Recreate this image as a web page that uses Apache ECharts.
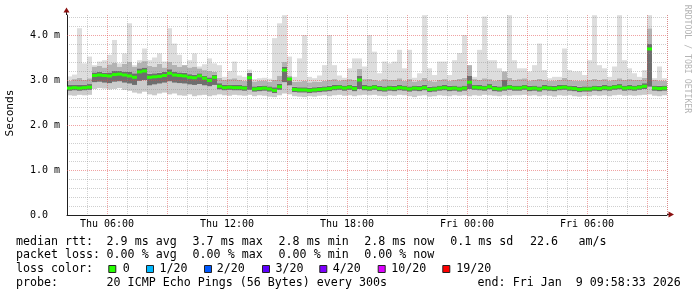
<!DOCTYPE html>
<html><head><meta charset="utf-8">
<script src="https://cdn.jsdelivr.net/npm/echarts@6/dist/echarts.min.js"></script>
<style>html,body{margin:0;padding:0;background:#fff}#c{width:697px;height:297px}</style>
</head><body><div id="c"></div>
<script>
// ---- data (milliseconds), one value per 15-minute step starting Thu 04:00 ----
const startMinute = 240;           // Thu 04:00 (minutes after Thu 00:00)
const stepMinutes = 15;
const dayNames = ['Thu', 'Fri'];
const tickHours = [6, 12, 18, 24, 30];
const tickLabels = ['Thu 06:00', 'Thu 12:00', 'Thu 18:00', 'Fri 00:00', 'Fri 06:00'];
const yTickLabels = ['0.0', '1.0 m', '2.0 m', '3.0 m', '4.0 m'];

const median = [
 2.82,2.83,2.82,2.83,2.84,3.10,3.11,3.10,3.09,3.12,3.13,3.11,3.09,3.06,3.18,3.20,3.06,3.07,3.08,3.10,3.15,3.11,3.10,3.09,3.06,3.05,3.09,3.04,2.99,3.06,
 2.86,2.83,2.84,2.83,2.83,2.82,3.05,2.80,2.81,2.82,2.80,2.77,2.85,3.22,3.02,2.79,2.78,2.78,2.77,2.78,2.79,2.80,2.81,2.83,2.84,2.82,2.84,2.81,3.00,2.83,
 2.82,2.84,2.81,2.80,2.82,2.81,2.83,2.82,2.80,2.82,2.81,2.83,2.79,2.80,2.82,2.83,2.81,2.82,2.80,2.82,2.95,2.84,2.83,2.82,2.85,2.81,2.80,2.82,2.84,2.82,
 2.82,2.84,2.81,2.82,2.80,2.83,2.82,2.81,2.83,2.84,2.82,2.81,2.79,2.80,2.80,2.82,2.81,2.83,2.82,2.84,2.85,2.82,2.83,2.82,2.84,2.86,3.69,2.82,2.81,2.82];
const smokeMax = [
 3.08,3.12,4.15,3.37,3.52,3.33,3.41,3.44,3.56,3.89,3.37,3.59,4.26,3.33,3.44,3.70,3.44,3.50,3.59,3.41,4.15,3.81,3.56,3.33,3.44,3.59,3.30,3.35,3.48,3.37,
 3.33,3.07,3.20,3.41,3.10,3.07,3.22,3.02,3.04,3.05,3.03,3.93,4.26,4.44,3.52,3.07,3.48,4.00,3.07,3.04,3.10,3.33,4.00,3.33,3.10,3.05,3.26,3.48,3.48,3.30,
 4.00,3.63,3.15,3.41,3.37,3.41,3.67,3.26,3.67,3.05,3.15,4.44,3.26,3.11,3.41,3.41,3.11,3.44,3.60,4.00,3.33,3.07,3.67,4.41,3.44,3.44,3.26,3.19,4.44,3.44,
 3.26,3.26,3.19,3.33,3.81,3.22,3.04,3.07,3.07,3.70,3.22,3.19,3.19,3.11,3.44,4.44,3.33,3.26,3.07,3.30,4.44,3.44,3.26,3.15,3.07,3.22,4.44,3.04,3.30,3.04];
const smokeUpper = [
 2.98,3.02,3.05,3.00,3.04,3.30,3.32,3.28,3.35,3.38,3.30,3.36,3.40,3.30,3.38,3.42,3.32,3.30,3.36,3.28,3.40,3.34,3.30,3.33,3.28,3.30,3.26,3.22,3.20,3.18,
 3.05,3.00,3.02,3.04,3.00,2.98,3.15,2.97,2.98,2.99,2.96,3.00,3.10,3.40,3.10,2.96,2.97,2.98,2.95,2.97,2.96,2.98,3.00,3.02,2.99,3.00,3.02,3.00,3.25,3.02,
 3.03,3.00,2.98,3.02,3.00,3.01,3.04,2.98,3.02,2.97,2.99,3.05,2.98,2.97,3.00,3.02,2.98,3.00,3.03,3.05,3.33,3.02,3.00,3.04,3.02,2.99,3.00,3.19,3.05,3.00,
 3.02,3.04,2.99,3.00,3.03,3.00,2.98,2.99,3.01,3.05,3.00,2.99,2.98,2.99,3.00,3.03,3.00,3.02,2.99,3.01,3.04,3.00,3.02,3.00,3.01,3.05,4.15,3.00,2.99,2.98];
const smokeHigh = [
 2.89,2.90,2.90,2.89,2.91,3.17,3.18,3.16,3.17,3.20,3.21,3.19,3.18,3.15,3.26,3.28,3.14,3.15,3.16,3.18,3.24,3.19,3.17,3.16,3.13,3.12,3.15,3.10,3.06,3.12,
 2.93,2.89,2.90,2.89,2.89,2.88,3.16,2.86,2.87,2.88,2.86,2.84,2.92,3.30,3.06,2.85,2.84,2.84,2.83,2.84,2.85,2.86,2.87,2.89,2.90,2.88,2.90,2.87,3.10,2.89,
 2.88,2.90,2.87,2.86,2.88,2.87,2.89,2.88,2.86,2.88,2.87,2.89,2.85,2.86,2.88,2.89,2.87,2.88,2.86,2.88,3.10,2.90,2.89,2.88,2.91,2.87,2.86,3.00,2.90,2.88,
 2.88,2.90,2.87,2.88,2.86,2.89,2.88,2.87,2.89,2.90,2.88,2.87,2.85,2.86,2.86,2.88,2.87,2.89,2.88,2.90,2.91,2.88,2.89,2.88,2.90,2.93,3.80,2.88,2.87,2.88];
const smokeLow = [
 2.76,2.77,2.76,2.77,2.78,2.95,2.96,2.94,2.93,2.96,2.97,2.94,2.92,2.89,2.98,3.00,2.88,2.90,2.92,2.94,2.97,2.94,2.93,2.92,2.90,2.89,2.91,2.88,2.86,2.89,
 2.79,2.77,2.78,2.77,2.77,2.76,2.78,2.74,2.75,2.76,2.74,2.71,2.78,2.95,2.88,2.73,2.72,2.72,2.71,2.72,2.73,2.74,2.75,2.77,2.78,2.76,2.78,2.75,2.80,2.77,
 2.76,2.78,2.75,2.74,2.76,2.75,2.77,2.76,2.74,2.76,2.75,2.77,2.73,2.74,2.76,2.77,2.75,2.76,2.74,2.76,2.80,2.78,2.77,2.76,2.79,2.75,2.74,2.76,2.78,2.76,
 2.76,2.78,2.75,2.76,2.74,2.77,2.76,2.75,2.77,2.78,2.76,2.75,2.73,2.74,2.74,2.76,2.75,2.77,2.76,2.78,2.79,2.76,2.77,2.76,2.78,2.80,2.85,2.76,2.75,2.76];
const smokeMin = [
 2.66,2.65,2.67,2.66,2.67,2.80,2.82,2.81,2.79,2.80,2.82,2.78,2.76,2.72,2.70,2.74,2.68,2.66,2.70,2.72,2.68,2.70,2.66,2.65,2.68,2.64,2.66,2.67,2.64,2.66,
 2.68,2.66,2.65,2.67,2.66,2.65,2.67,2.64,2.66,2.65,2.63,2.62,2.66,2.70,2.68,2.64,2.63,2.62,2.64,2.63,2.65,2.66,2.64,2.66,2.67,2.65,2.66,2.64,2.66,2.67,
 2.66,2.67,2.65,2.64,2.66,2.65,2.67,2.66,2.64,2.62,2.65,2.66,2.63,2.64,2.66,2.65,2.64,2.66,2.65,2.66,2.64,2.66,2.65,2.67,2.66,2.65,2.64,2.66,2.65,2.66,
 2.66,2.67,2.65,2.66,2.64,2.66,2.65,2.63,2.66,2.65,2.66,2.64,2.63,2.65,2.64,2.66,2.65,2.66,2.64,2.66,2.67,2.65,2.66,2.65,2.66,2.67,2.68,2.65,2.64,2.66];

const statRows = [
 ['median rtt:', '2.9 ms avg', '3.7 ms max', '2.8 ms min', '2.8 ms now', '0.1 ms sd', '22.6', 'am/s'],
 ['packet loss:', '0.00 % avg', '0.00 % max', '0.00 % min', '0.00 % now'],
 ['loss color:'],
 ['probe:', '20 ICMP Echo Pings (56 Bytes) every 300s', 'end: Fri Jan  9 09:58:33 2026']
];
const lossLabels = ['0', '1/20', '2/20', '3/20', '4/20', '10/20', '19/20'];
const lossColors = ['#26ff00', '#00b8ff', '#0059ff', '#5e00ff', '#7e00ff', '#dd00ff', '#ff0000'];

// ---- layout / style ----
const FONT = '"DejaVu Sans Mono", monospace';
const rowY = [241.5, 255.3, 269, 282.7];
const colX = [
 [16, 106.6, 192.6, 278.6, 364.3, 450.3, 530, 578.6],
 [16, 106.6, 192.6, 278.6, 364.3],
 [16],
 [16, 106.6, 477.6]
];
const boxX = [108.3, 146, 204, 262, 319.3, 377.7, 442.3];
const lossTextX = [122.8, 159.5, 216.8, 275.5, 332.8, 391.2, 456.2];

const n = median.length;
const pad = v => (v < 10 ? '0' : '') + v;
const cats = [];
for (let j = 0; j < n; j++) {
  const m = startMinute + j * stepMinutes;
  cats.push(dayNames[Math.floor(m / 1440)] + ' ' + pad(Math.floor(m / 60) % 24) + ':' + pad(m % 60));
}
const diff = (a, b) => a.map((v, i) => Math.max(0, +(v - b[i]).toFixed(4)));
const yMax = 200 / 45;
const hourMin = startMinute / 60, hourMax = hourMin + n * stepMinutes / 60;
const perHour = 60 / stepMinutes;                       // categories per hour
const majorOffset = ((3 - hourMin % 3) % 3) * perHour;    // first 3-hour boundary

function band(data, color) {
  return {
    type: 'bar', stack: 'smoke', data: data, xAxisIndex: 0, yAxisIndex: 0,
    barCategoryGap: '0%', barGap: '0%', silent: true, animation: false, z: 2,
    itemStyle: { color: color || 'rgba(0,0,0,0)', borderWidth: 0 }
  };
}

const series = [
  band(smokeMin, null),
  band(diff(smokeLow, smokeMin), '#cbcbcb'),
  band(diff(smokeHigh, smokeLow), '#6e6e6e'),
  band(diff(smokeUpper, smokeHigh), '#b3b3b3'),
  band(diff(smokeMax, smokeUpper), '#dddddd'),
  { type: 'scatter', data: median, xAxisIndex: 0, yAxisIndex: 0, symbol: 'rect', symbolSize: [5, 3],
    itemStyle: { color: '#26ff00', opacity: 1 }, silent: true, animation: false, z: 6 }
];

const graphic = [];
statRows.forEach((row, r) => row.forEach((t, c) => graphic.push({
  type: 'text', x: colX[r][c], y: rowY[r], silent: true,
  style: { text: t, fill: '#000', font: '11.65px ' + FONT, align: 'left', verticalAlign: 'middle' }
})));
lossLabels.forEach((t, k) => {
  graphic.push({ type: 'rect', silent: true, shape: { x: boxX[k] + 0.5, y: 265.5, width: 7, height: 7 },
    style: { fill: lossColors[k], stroke: '#222', lineWidth: 1 } });
  graphic.push({ type: 'text', x: lossTextX[k], y: rowY[2], silent: true,
    style: { text: t, fill: '#000', font: '11.65px ' + FONT, align: 'left', verticalAlign: 'middle' } });
});
graphic.push({ type: 'text', x: 10, y: 113, rotation: Math.PI / 2, silent: true,
  style: { text: 'Seconds', fill: '#000', font: '11.2px ' + FONT, align: 'center', verticalAlign: 'middle' } });
graphic.push({ type: 'text', x: 687.5, y: 59, rotation: -Math.PI / 2, silent: true,
  style: { text: 'RRDTOOL / TOBI OETIKER', fill: '#b4b4b4', font: '8.2px ' + FONT, align: 'center', verticalAlign: 'middle' } });
// axis extensions and arrows
graphic.push({ type: 'line', silent: true, z: 10, shape: { x1: 66.5, y1: 15, x2: 66.5, y2: 12 }, style: { stroke: '#202020', lineWidth: 1 } });
graphic.push({ type: 'polygon', silent: true, z: 10, shape: { points: [[63.5, 12.5], [69.5, 12.5], [66.5, 7.5]] }, style: { fill: '#8b1010' } });
graphic.push({ type: 'line', silent: true, z: 10, shape: { x1: 667, y1: 214.5, x2: 669, y2: 214.5 }, style: { stroke: '#202020', lineWidth: 1 } });
graphic.push({ type: 'polygon', silent: true, z: 10, shape: { points: [[668.5, 211.5], [668.5, 217.5], [674, 214.5]] }, style: { fill: '#8b1010' } });

const GREY = 'rgba(140,140,140,0.42)';
const RED = 'rgba(225,70,70,0.5)';
const NONE = 'rgba(0,0,0,0)';

const option = {
  animation: false,
  backgroundColor: '#fff',
  grid: { left: 67, top: 15, width: 600, height: 200, containLabel: false, outerBoundsMode: 'none' },
  xAxis: [
    // category axis carrying the smoke columns; hourly grid lines
    { type: 'category', data: cats, boundaryGap: true, z: 4,
      axisLine: { show: false }, axisTick: { show: false }, axisLabel: { show: false },
      splitLine: { show: true, interval: i => i > 0 && i % perHour === 0 && (i - majorOffset) % (3 * perHour) !== 0,
        lineStyle: { color: GREY, type: [1, 1], width: 1 } } },
    // same categories; 3-hour major grid lines
    { type: 'category', data: cats, boundaryGap: true, z: 4,
      axisLine: { show: false }, axisTick: { show: false }, axisLabel: { show: false },
      splitLine: { show: true, interval: i => i >= majorOffset && (i - majorOffset) % (3 * perHour) === 0,
        lineStyle: { color: RED, type: [1, 1], width: 1 } } },
    // time axis in hours for the labels and axis line
    { type: 'value', min: hourMin, max: hourMax, interval: 1, position: 'bottom', z: 5,
      axisLine: { show: true, onZero: false, lineStyle: { color: '#202020', width: 1 } }, axisTick: { show: false },
      axisLabel: { color: '#000', fontFamily: FONT, fontSize: 10, margin: 4, showMinLabel: false, showMaxLabel: false,
        formatter: v => { const k = tickHours.indexOf(Math.round(v)); return k >= 0 && Math.abs(v - Math.round(v)) < 1e-6 ? tickLabels[k] : ''; } },
      splitLine: { show: false } }
  ],
  yAxis: [
    { type: 'value', min: 0, max: yMax, interval: 0.2, z: 4,
      axisLine: { show: true, onZero: false, lineStyle: { color: '#202020', width: 1 } }, axisTick: { show: false }, axisLabel: { show: false },
      splitLine: { show: true, showMinLine: true, showMaxLine: false, lineStyle: { color: [NONE, GREY, GREY, GREY, GREY], type: [1, 1], width: 1 } } },
    { type: 'value', min: 0, max: yMax, interval: 1, position: 'left', z: 5,
      axisLine: { show: false }, axisTick: { show: false },
      axisLabel: { show: true, showMaxLabel: false, align: 'left', margin: 37, color: '#000', fontFamily: FONT, fontSize: 10,
        formatter: v => { const r = Math.round(v); return Math.abs(v - r) < 1e-6 && yTickLabels[r] ? yTickLabels[r] : ''; } },
      splitLine: { show: true, showMinLine: false, showMaxLine: false, lineStyle: { color: RED, type: [1, 1], width: 1 } } }
  ],
  series: series,
  graphic: graphic
};

const chart = echarts.init(document.getElementById('c'), null, { renderer: 'canvas', width: 697, height: 297 });
chart.setOption(option);
</script>
</body></html>
